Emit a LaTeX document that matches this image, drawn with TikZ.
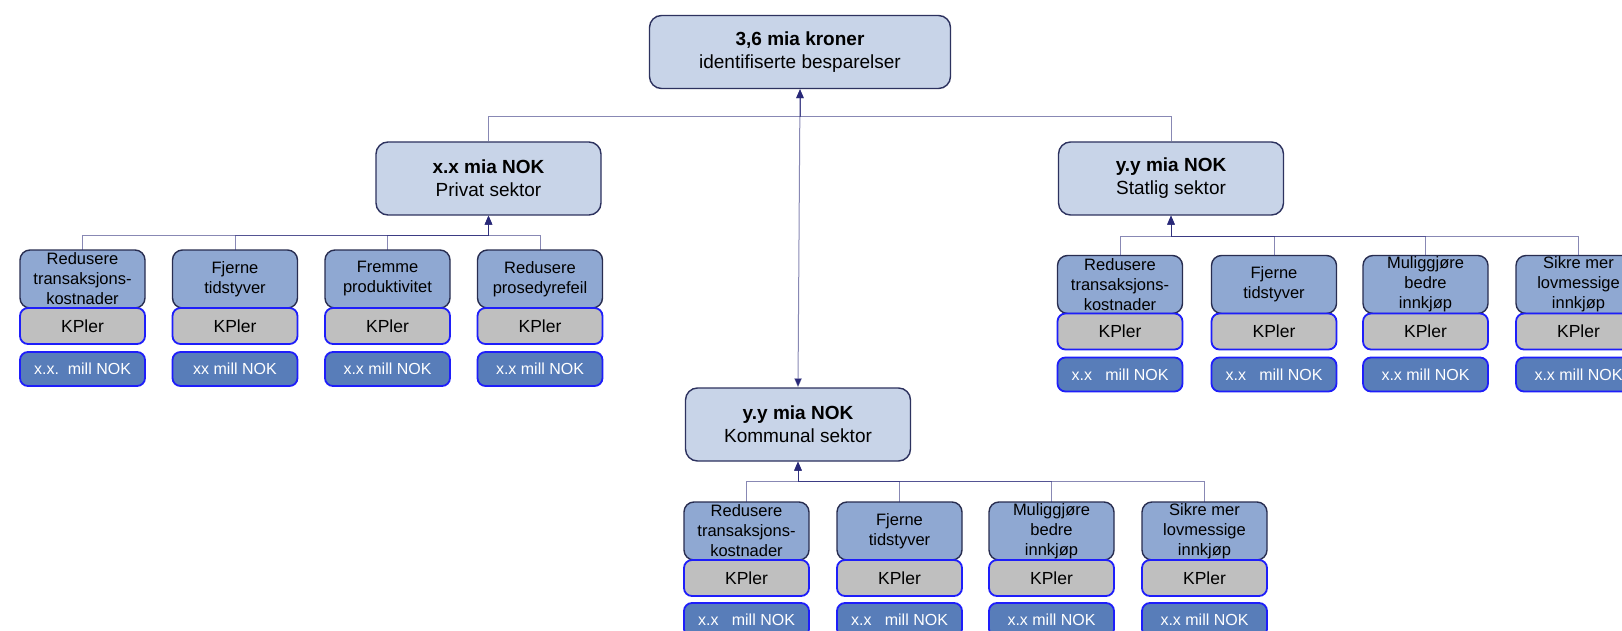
\documentclass[tikz,border=0pt]{standalone}
\usepackage{fontspec}
\setmainfont{Liberation Sans}
\usetikzlibrary{arrows.meta,positioning}
\definecolor{topfill}{RGB}{200,212,232}
\definecolor{topdraw}{RGB}{45,50,95}
\definecolor{headfill}{RGB}{143,168,210}
\definecolor{headdraw}{RGB}{40,45,80}
\definecolor{kpfill}{RGB}{191,191,191}
\definecolor{brightblue}{RGB}{30,30,250}
\definecolor{millfill}{RGB}{88,125,185}
\definecolor{connc}{RGB}{40,40,120}
\begin{document}
\begin{tikzpicture}[x=1pt,y=-1pt,
  topbox/.style={draw=topdraw,fill=topfill,line width=1.4pt,rounded corners=12pt,
    minimum width=#1,minimum height=73pt,inner sep=0pt,align=center,
    font=\fontsize{19}{23}\selectfont},
  headbox/.style={draw=headdraw,fill=headfill,line width=1.4pt,rounded corners=10pt,
    minimum width=125pt,minimum height=58pt,inner sep=0pt,outer sep=0pt,align=center,anchor=north,
    font=\fontsize{16.5}{20}\selectfont},
  kpbox/.style={draw=brightblue,fill=kpfill,line width=1.8pt,rounded corners=8pt,
    minimum width=125pt,minimum height=36pt,inner sep=0pt,outer sep=0pt,
    font=\fontsize{17.5}{20}\selectfont},
  millbox/.style={draw=brightblue,fill=millfill,line width=1.8pt,rounded corners=8pt,
    minimum width=125pt,minimum height=34pt,inner sep=0pt,outer sep=0pt,text=white,
    font=\fontsize{16}{19}\selectfont},
  conn/.style={draw=connc,draw opacity=0.55,line width=1pt,
    -{Triangle[length=9pt,width=7.5pt,color=connc]}},
]
\path[use as bounding box] (0,0) rectangle (1622,631);
\clip (0,0) rectangle (1622,631);
\fill[white] (0,0) rectangle (1622,631);

% top level
\node[topbox=301pt] (top) at (800,52) {\textbf{3,6 mia kroner}\\identifiserte besparelser};
\node[topbox=225pt] (priv) at (488.5,178.5) {\textbf{x.x mia NOK}\\Privat sektor};
\node[topbox=225pt] (stat) at (1171,178.5) {\textbf{y.y mia NOK}\\Statlig sektor};
\node[topbox=225pt] (komm) at (798,424.5) {\textbf{y.y mia NOK}\\Kommunal sektor};

% Privat children
\node[headbox] (p1) at (82.5,250) {Redusere\\transaksjons-\\kostnader};
\node[headbox] (p2) at (235,250) {Fjerne\\tidstyver};
\node[headbox] (p3) at (387.5,250) {Fremme\\produktivitet};
\node[headbox] (p4) at (540,250) {Redusere\\prosedyrefeil};
\node[kpbox,below=0pt of p1] (pk1) {KPler};
\node[kpbox,below=0pt of p2] (pk2) {KPler};
\node[kpbox,below=0pt of p3] (pk3) {KPler};
\node[kpbox,below=0pt of p4] (pk4) {KPler};
\node[millbox,below=8pt of pk1] (pm1) {x.x.~~mill NOK};
\node[millbox,below=8pt of pk2] (pm2) {xx mill NOK};
\node[millbox,below=8pt of pk3] (pm3) {x.x mill NOK};
\node[millbox,below=8pt of pk4] (pm4) {x.x mill NOK};

% Statlig children
\node[headbox] (s1) at (1120,255.5) {Redusere\\transaksjons-\\kostnader};
\node[headbox] (s2) at (1274,255.5) {Fjerne\\tidstyver};
\node[headbox] (s3) at (1425.5,255.5) {Muliggjøre\\bedre\\innkjøp};
\node[headbox] (s4) at (1578.5,255.5) {Sikre mer\\lovmessige\\innkjøp};
\node[kpbox,below=0pt of s1] (sk1) {KPler};
\node[kpbox,below=0pt of s2] (sk2) {KPler};
\node[kpbox,below=0pt of s3] (sk3) {KPler};
\node[kpbox,below=0pt of s4] (sk4) {KPler};
\node[millbox,below=8pt of sk1] (sm1) {x.x~~~mill NOK};
\node[millbox,below=8pt of sk2] (sm2) {x.x~~~mill NOK};
\node[millbox,below=8pt of sk3] (sm3) {x.x mill NOK};
\node[millbox,below=8pt of sk4] (sm4) {x.x mill NOK};

% Kommunal children
\node[headbox] (k1) at (746.5,502) {Redusere\\transaksjons-\\kostnader};
\node[headbox] (k2) at (899.5,502) {Fjerne\\tidstyver};
\node[headbox] (k3) at (1051.5,502) {Muliggjøre\\bedre\\innkjøp};
\node[headbox] (k4) at (1204.5,502) {Sikre mer\\lovmessige\\innkjøp};
\node[kpbox,below=0pt of k1] (kk1) {KPler};
\node[kpbox,below=0pt of k2] (kk2) {KPler};
\node[kpbox,below=0pt of k3] (kk3) {KPler};
\node[kpbox,below=0pt of k4] (kk4) {KPler};
\node[millbox,below=7pt of kk1] (km1) {x.x~~~mill NOK};
\node[millbox,below=7pt of kk2] (km2) {x.x~~~mill NOK};
\node[millbox,below=7pt of kk3] (km3) {x.x mill NOK};
\node[millbox,below=7pt of kk4] (km4) {x.x mill NOK};

% connectors
\foreach \c in {p1,p2,p3,p4}
  \draw[conn] (\c.north) |- ([yshift=-20pt]priv.south) -- (priv.south);
\foreach \c in {s1,s2,s3,s4}
  \draw[conn] (\c.north) |- ([yshift=-21pt]stat.south) -- (stat.south);
\foreach \c in {k1,k2,k3,k4}
  \draw[conn] (\c.north) |- ([yshift=-20pt]komm.south) -- (komm.south);
\draw[conn] (priv.north) |- ([yshift=-27pt]top.south) -- (top.south);
\draw[conn] (stat.north) |- ([yshift=-27pt]top.south) -- (top.south);
\draw[conn,{Triangle[length=9pt,width=7.5pt,color=connc]}-{Triangle[length=9pt,width=7.5pt,color=connc]}]
  (komm.north) -- (top.south);
\end{tikzpicture}
\end{document}
